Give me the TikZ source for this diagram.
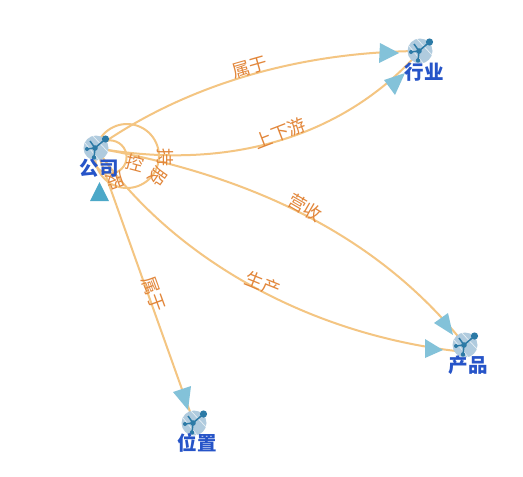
\documentclass[tikz,border=0pt]{standalone}
\usepackage{fontspec}
\setmainfont{Noto Sans CJK SC}
\definecolor{edgec}{RGB}{244,197,130}
\definecolor{labc}{RGB}{226,134,58}
\definecolor{namec}{RGB}{38,84,200}
\definecolor{headc}{RGB}{131,194,217}
\definecolor{headd}{RGB}{76,168,200}
\definecolor{discc}{RGB}{176,203,222}
\definecolor{hubc}{RGB}{44,122,166}
\tikzset{
 link/.style={draw=edgec,line width=2pt},
 elabel/.style={text=labc,font=\fontsize{18pt}{18pt}\selectfont,inner sep=0pt},
 nlabel/.style={text=namec,font=\fontsize{19.5pt}{20pt}\selectfont\bfseries,inner sep=0pt},
 headtri/.style={fill=headc,draw=none},
 anchorpt/.style={inner sep=0pt,minimum size=0pt},
}
\newcommand{\nodeicon}[2]{%
 \begin{scope}[shift={(#1,#2)},x=1pt,y=1pt]
 \fill[discc] (0,0) circle (12.5);
 \draw[white,line width=.7pt,opacity=.7] (-11,5)--(3,-12) (-3,12)--(12,-4);
 \draw[hubc,line width=1.5pt] (-1,0)--(9.5,9) (-1,0)--(-9,-1) (-1,0)--(-2,-9.5) (-1,0)--(-6,7);
 \fill[hubc] (-1,0) circle (2.8) (9.5,9) circle (3.6) (-9,-1) circle (2) (-2,-9.5) circle (2.2);
 \end{scope}}
\begin{document}
\begin{tikzpicture}[x=1pt,y=-1pt]
\path[use as bounding box,fill=white] (0,0) rectangle (523,477);
% anchors
\node[anchorpt] (co) at (96,148) {};
\node[anchorpt] (ind) at (420,51) {};
\node[anchorpt] (pro) at (465,345) {};
\node[anchorpt] (loc) at (194,423) {};
\coordinate (proin) at (465,352);
% self loops
\draw[link] (co.center) arc[start angle=194.5,delta angle=360,radius=32];
\draw[link] (co.center) arc[start angle=212.7,delta angle=360,radius=16.6];
% edges
\draw[link] (co.center) .. controls (175,92) and (285,52) .. (ind.center);
\draw[link] (co.center) .. controls (230,172) and (345,136) .. (ind.center);
\draw[link] (co.center) .. controls (250,175) and (378,235) .. (pro.center);
\draw[link] (co.center) .. controls (165,250) and (300,335) .. (proin);
\draw[link] (co.center) -- (loc.center);
% icons
\nodeicon{96}{148}
\nodeicon{420}{51}
\nodeicon{465}{345}
\nodeicon{194}{423}
% arrowheads
\fill[headtri] (380,43)--(379,63)--(399,53)--cycle;
\fill[headtri] (384,80)--(395,95)--(405,73)--cycle;
\fill[headtri] (434,323)--(448,313)--(453,335)--cycle;
\fill[headtri] (425,339)--(425,358)--(443,350)--cycle;
\fill[headtri] (173,392)--(191,386)--(188,410)--cycle;
\fill[headd] (90,201)--(109,201)--(99.5,182)--cycle;
% edge labels
\node[elabel,rotate=16] (l1) at (250,67) {属于};
\node[elabel,rotate=21] (l2) at (280,133) {上下游};
\node[elabel,rotate=-30] (l3) at (305,208) {营收};
\node[elabel,rotate=-22] (l4) at (263,284) {生产};
\node[elabel,rotate=-70] (l5) at (154,294) {属于};
\node[elabel,rotate=-15] (l6) at (135,163) {控};
\node[elabel,rotate=-90] (l7) at (165,157) {持};
\node[elabel,rotate=-125] (l8) at (158,177) {股};
\node[elabel,rotate=-160] (l9) at (115,181) {股};
% node labels
\node[nlabel] (colab) at (99,168) {公司};
\node[nlabel] (indlab) at (424,72) {行业};
\node[nlabel] (prolab) at (468,365) {产品};
\node[nlabel] (loclab) at (197,443) {位置};
\end{tikzpicture}
\end{document}
